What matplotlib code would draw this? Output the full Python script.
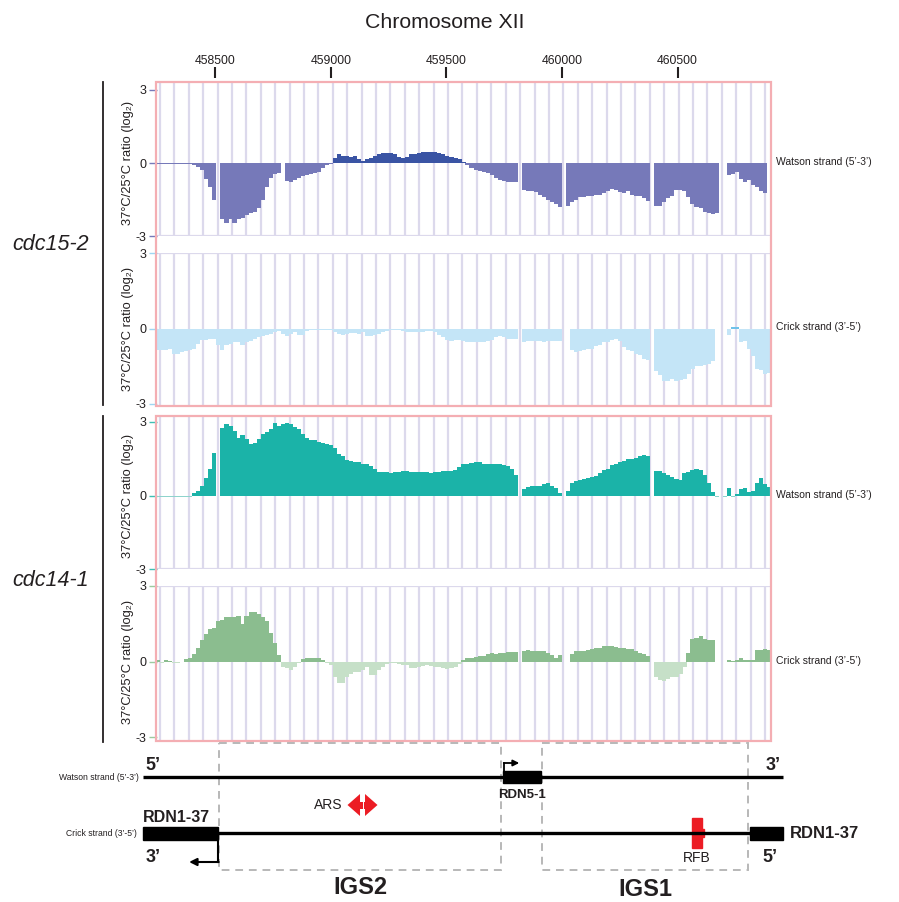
import numpy as np
import matplotlib.pyplot as plt
from matplotlib.patches import Rectangle, Polygon

plt.rcParams['font.family'] = ['Liberation Sans', 'DejaVu Sans']
narrow = ['Liberation Sans Narrow', 'Liberation Sans', 'DejaVu Sans']

nan = np.nan
W, H = 899, 902

# genomic position (bp) of each probe bin on chr XII, ~17.4 bp apart
pos = 458253 + 17.38 * np.arange(153)
bin_w = 17.8

# log2 ratio 37C/25C for each bin
cdc15_watson = [
    -0.04, -0.04, -0.04, -0.04, -0.04, -0.04, -0.04, -0.04, -0.04, -0.08,
    -0.18, -0.3, -0.65, -1.0, -1.5, nan, -2.3, -2.45, -2.3, -2.45,
    -2.3, -2.25, -2.15, -2.05, -2.0, -1.85, -1.5, -1.0, -0.6, -0.45,
    -0.4, nan, -0.75, -0.8, -0.7, -0.6, -0.55, -0.5, -0.45, -0.4,
    -0.35, -0.2, -0.1, -0.03, 0.2, 0.35, 0.3, 0.3, 0.25, 0.3,
    0.15, 0.1, 0.15, 0.2, 0.3, 0.35, 0.4, 0.4, 0.4, 0.35,
    0.25, 0.2, 0.25, 0.35, 0.35, 0.4, 0.45, 0.45, 0.45, 0.45,
    0.4, 0.35, 0.3, 0.25, 0.2, 0.15, 0.03, -0.1, -0.2, -0.28,
    -0.32, -0.37, -0.42, -0.5, -0.6, -0.68, -0.72, -0.78, -0.8, -0.8,
    nan, -1.1, -1.15, -1.15, -1.2, -1.3, -1.4, -1.5, -1.6, -1.7,
    -1.8, nan, -1.75, -1.6, -1.5, -1.4, -1.4, -1.35, -1.35, -1.3,
    -1.3, -1.25, -1.15, -1.05, -1.1, -1.2, -1.25, -1.15, -1.3, -1.35,
    -1.35, -1.45, -1.55, nan, -1.75, -1.75, -1.6, -1.45, -1.35, -1.1,
    -1.1, -1.15, -1.4, -1.7, -1.8, -1.85, -2.0, -2.05, -2.1, -2.05,
    nan, nan, -0.5, -0.45, -0.35, -0.65, -0.8, -0.7, -0.9, -1.0,
    -1.15, -1.25, nan]

cdc15_crick = [
    -0.85, -0.85, -0.85, -0.8, -1.0, -1.0, -0.95, -0.9, -0.85, -0.8,
    -0.6, -0.45, -0.45, -0.4, -0.4, -0.65, -0.85, -0.65, -0.6, -0.55,
    -0.55, -0.65, -0.55, -0.5, -0.4, -0.35, -0.3, -0.25, -0.2, -0.15,
    -0.1, -0.2, -0.3, -0.2, -0.15, -0.25, -0.25, -0.1, -0.05, -0.05,
    -0.05, -0.05, -0.05, -0.05, -0.12, -0.2, -0.25, -0.2, -0.18, -0.18,
    -0.2, -0.15, -0.3, -0.3, -0.25, -0.2, -0.12, -0.08, -0.05, -0.05,
    -0.05, -0.08, -0.12, -0.15, -0.15, -0.12, -0.12, -0.1, -0.1, -0.15,
    -0.25, -0.35, -0.45, -0.5, -0.45, -0.45, -0.5, -0.55, -0.55, -0.55,
    -0.55, -0.55, -0.5, -0.45, -0.35, -0.3, -0.35, -0.4, -0.4, -0.4,
    nan, -0.55, -0.5, -0.5, -0.5, -0.5, -0.52, -0.5, -0.5, -0.5,
    -0.5, nan, nan, -0.85, -0.95, -0.9, -0.85, -0.8, -0.8, -0.7,
    -0.65, -0.55, -0.55, -0.45, -0.4, -0.5, -0.75, -0.85, -0.9, -1.0,
    -1.05, -1.2, -1.25, nan, -1.7, -1.85, -2.1, -2.1, -2.0, -2.1,
    -2.05, -2.0, -1.8, -1.6, -1.5, -1.5, -1.45, -1.4, -1.3, nan,
    nan, nan, -0.25, 0.06, 0.06, -0.55, -0.5, -0.8, -1.1, -1.6,
    -1.65, -1.8, -1.75]

cdc14_watson = [
    -0.06, -0.06, -0.06, -0.06, -0.06, -0.06, -0.06, -0.06, -0.06, 0.1,
    0.2, 0.4, 0.7, 1.1, 1.75, nan, 2.75, 2.9, 2.85, 2.65,
    2.35, 2.45, 2.3, 2.1, 2.15, 2.3, 2.5, 2.6, 2.7, 2.95,
    2.85, 2.9, 2.95, 2.9, 2.8, 2.7, 2.5, 2.35, 2.25, 2.25,
    2.2, 2.15, 2.1, 2.05, 1.95, 1.7, 1.6, 1.45, 1.4, 1.35,
    1.35, 1.3, 1.3, 1.2, 1.1, 0.95, 0.95, 0.95, 0.9, 0.95,
    0.95, 1.0, 0.98, 0.95, 0.95, 0.95, 0.95, 0.95, 0.92, 0.95,
    0.95, 1.0, 1.02, 1.02, 1.05, 1.15, 1.3, 1.3, 1.32, 1.35,
    1.35, 1.3, 1.3, 1.3, 1.3, 1.28, 1.25, 1.2, 1.1, 0.85,
    nan, 0.25, 0.35, 0.4, 0.4, 0.4, 0.45, 0.5, 0.4, 0.3,
    0.1, nan, 0.2, 0.5, 0.6, 0.62, 0.68, 0.72, 0.75, 0.8,
    0.9, 1.05, 1.1, 1.25, 1.3, 1.35, 1.4, 1.5, 1.5, 1.55,
    1.6, 1.65, 1.6, nan, 1.0, 1.0, 0.9, 0.85, 0.75, 0.68,
    0.65, 0.9, 0.95, 1.05, 1.1, 1.05, 0.85, 0.5, 0.15, -0.05,
    nan, -0.05, 0.3, -0.05, 0.05, 0.25, 0.3, 0.15, 0.2, 0.5,
    0.7, 0.45, 0.35]

cdc14_crick = [
    0.05, -0.05, 0.05, 0.02, -0.05, -0.05, -0.02, 0.1, 0.12, 0.3,
    0.55, 0.85, 1.1, 1.3, 1.35, 1.6, 1.65, 1.75, 1.75, 1.75,
    1.8, 1.5, 1.8, 1.95, 1.95, 1.9, 1.75, 1.6, 1.15, 0.75,
    0.25, -0.2, -0.25, -0.35, -0.2, -0.05, 0.08, 0.12, 0.12, 0.15,
    0.12, 0.05, -0.05, -0.15, -0.6, -0.85, -0.85, -0.6, -0.5, -0.4,
    -0.4, -0.35, -0.2, -0.55, -0.55, -0.35, -0.2, -0.1, -0.05, -0.05,
    -0.1, -0.12, -0.15, -0.25, -0.25, -0.2, -0.18, -0.15, -0.18, -0.22,
    -0.22, -0.25, -0.28, -0.25, -0.2, -0.1, 0.05, 0.12, 0.15, 0.18,
    0.2, 0.22, 0.3, 0.32, 0.3, 0.32, 0.35, 0.38, 0.38, 0.38,
    nan, 0.4, 0.45, 0.42, 0.42, 0.4, 0.42, 0.35, 0.25, 0.15,
    0.25, nan, nan, 0.3, 0.4, 0.42, 0.42, 0.45, 0.5, 0.52,
    0.55, 0.6, 0.6, 0.6, 0.58, 0.55, 0.52, 0.5, 0.48, 0.4,
    0.35, 0.3, 0.2, nan, -0.6, -0.75, -0.78, -0.7, -0.6, -0.6,
    -0.5, -0.2, 0.35, 0.9, 0.95, 1.0, 0.9, 0.85, 0.85, nan,
    nan, nan, 0.05, 0.02, 0.05, 0.12, 0.05, 0.05, 0.05, 0.45,
    0.45, 0.5, 0.45]

strand_names = ['Watson strand (5\u2019-3\u2019)', 'Crick strand (3\u2019-5\u2019)',
                'Watson strand (5\u2019-3\u2019)', 'Crick strand (3\u2019-5\u2019)']
pos_colors = ['#3a54a4', '#6fc2ea', '#1bb3a8', '#8bbd8f']
neg_colors = ['#7679b9', '#c4e5f7', '#8ed3cc', '#c6e0c8']
tick_colors = ['#7679b9', '#9fd6f2', '#3fbfb3', '#9ccb9f']

xticks = [458500, 459000, 459500, 460000, 460500]
xlim = (458248, 460904)
grid_x = np.linspace(458261, 460878, 43)

# genome features for the map below the tracks (bp)
igs2 = (458516, 459736)
igs1 = (459913, 460804)
rdn5 = (459745, 459909)
rdn37_left = (458188, 458512)
rdn37_right = (460813, 460956)
ars_at = 459137
rfb_at = 460584

lavender = '#dcd9ec'
pink = '#f4aeb3'
txt = '#231f20'

fig = plt.figure(figsize=(W / 100, H / 100), dpi=100)


def box(left, top, right, bottom):
    return [left / W, 1 - bottom / H, (right - left) / W, (bottom - top) / H]


# (y of +3, y of -3, axes top, axes bottom) in pixels
track_px = [(90, 236, 83, 236), (253, 404, 253, 406),
            (422, 569, 416, 569), (586, 737, 586, 740)]
tracks = [cdc15_watson, cdc15_crick, cdc14_watson, cdc14_crick]

for i, vals in enumerate(tracks):
    y3, ym3, top, bot = track_px[i]
    unit = (ym3 - y3) / 6
    ytop = 3 + (y3 - top) / unit
    ybot = -3 - (bot - ym3) / unit
    ax = fig.add_axes(box(157, top, 771, bot))
    ax.set_xlim(*xlim)
    ax.set_ylim(ybot, ytop)
    v = np.array(vals, dtype=float)
    cols = np.where(v >= 0, pos_colors[i], neg_colors[i])
    ax.vlines(grid_x, ybot, ytop, color=lavender, lw=1.6, zorder=0)
    ax.axhline(-3 if i % 2 == 0 else 3, color=lavender, lw=1.6, zorder=0)
    ax.bar(pos, v, width=bin_w, color=cols, linewidth=0, zorder=2)
    for s in ax.spines.values():
        s.set_visible(False)
    ax.set_xticks([])
    ax.set_yticks([-3, 0, 3])
    ax.set_yticklabels(['-3', '0', '3'])
    ax.tick_params(axis='y', length=6, width=1, color=tick_colors[i],
                   labelsize=9, pad=1.5, labelcolor=txt)
    fig.text(128 / W, 1 - (y3 + ym3) / 2 / H, '37\u00b0C/25\u00b0C ratio (log\u2082)',
             rotation=90, ha='center', va='center', fontsize=9.3, color=txt)
    zero_y = y3 + (ym3 - y3) / 2
    fig.text(776 / W, 1 - (zero_y - 1) / H, strand_names[i], ha='left',
             va='center', fontsize=7.5, color=txt)

# overlay for frames and brackets
ov = fig.add_axes([0, 0, 1, 1])
ov.set_xlim(0, W)
ov.set_ylim(H, 0)
ov.axis('off')
ov.patch.set_visible(False)
for top, bot in [(82, 406), (416, 741)]:
    ov.add_patch(Rectangle((156, top), 615, bot - top, fill=False,
                           edgecolor=pink, lw=1.6))
ov.plot([103, 103], [82, 405], color=txt, lw=1.3)
ov.plot([103, 103], [416, 742], color=txt, lw=1.3)
ov.text(12, 245, 'cdc15-2', style='italic', fontsize=15.5, ha='left',
        va='center', color=txt)
ov.text(12, 580, 'cdc14-1', style='italic', fontsize=15.5, ha='left',
        va='center', color=txt)
ov.text(445, 22, 'Chromosome XII', fontsize=15.3, ha='center', va='center',
        color=txt)

# coordinate ruler above the tracks
axt = fig.add_axes(box(157, 77.9, 771, 78))
axt.set_xlim(*xlim)
axt.set_yticks([])
for s in axt.spines.values():
    s.set_visible(False)
axt.xaxis.tick_top()
axt.set_xticks(xticks)
axt.set_xticklabels([str(t) for t in xticks])
axt.tick_params(axis='x', length=8, width=1.5, pad=0, labelsize=8.8,
                colors=txt)

# gene map
ad = fig.add_axes(box(157, 742, 771, 902))
ad.set_xlim(*xlim)
ad.set_ylim(902, 742)
ad.axis('off')
ad.patch.set_visible(False)

for a, b in [igs2, igs1]:
    ad.add_patch(Rectangle((a, 743), b - a, 127, fill=False, edgecolor='#b8b8b8',
                           lw=1.4, ls=(0, (4, 3)), clip_on=False))

ad.plot([rdn37_left[0], rdn37_right[1]], [777, 777], color='black', lw=2.4,
        clip_on=False, solid_capstyle='butt')
ad.plot([rdn37_left[0], rdn37_right[1]], [833, 833], color='black', lw=2.4,
        clip_on=False, solid_capstyle='butt')
ad.add_patch(Rectangle((rdn5[0], 771), rdn5[1] - rdn5[0], 12, color='black'))
ad.add_patch(Rectangle((rdn37_left[0], 827), rdn37_left[1] - rdn37_left[0], 13,
                       color='black', clip_on=False))
ad.add_patch(Rectangle((rdn37_right[0], 827), rdn37_right[1] - rdn37_right[0],
                       13, color='black', clip_on=False))

# transcription start arrows
ad.plot([rdn5[0] + 4, rdn5[0] + 4], [771, 763], color='black', lw=1.3)
ad.annotate('', xy=(rdn5[0] + 70, 763), xytext=(rdn5[0] + 3, 763),
            arrowprops=dict(arrowstyle='-|>', color='black', lw=1.3,
                            mutation_scale=9, shrinkA=0, shrinkB=0))
ad.plot([rdn37_left[1], rdn37_left[1]], [840, 862], color='black', lw=1.5,
        clip_on=False)
ad.annotate('', xy=(rdn37_left[1] - 125, 862), xytext=(rdn37_left[1] + 3, 862),
            arrowprops=dict(arrowstyle='-|>', color='black', lw=1.5,
                            mutation_scale=11, shrinkA=0, shrinkB=0),
            annotation_clip=False)

# ARS (double arrow) and RFB
red = '#ec1c24'
bp = 4.325  # bp per pixel
for sgn in (-1, 1):
    ad.add_patch(Polygon([(ars_at + sgn * 15 * bp, 805),
                          (ars_at + sgn * 2.5 * bp, 794),
                          (ars_at + sgn * 2.5 * bp, 816)], closed=True,
                         color=red, lw=0))
ad.add_patch(Rectangle((ars_at - 3 * bp, 801.5), 6 * bp, 7, color=red, lw=0))
ad.plot([ars_at, ars_at], [800, 810], color='white', lw=0.7)
ad.text(ars_at - 20 * bp, 805, 'ARS', ha='right', va='center', fontsize=10,
        color=txt, family=narrow)
ad.add_patch(Rectangle((rfb_at - 20, 818), 40, 30, color=red))
ad.add_patch(Rectangle((rfb_at + 18, 829), 14, 8, color=red))
ad.text(rfb_at, 858, 'RFB', ha='center', va='center', fontsize=10,
        color=txt, family=narrow)

# labels of the map
bold = dict(fontweight='bold', color=txt, family=narrow)
ad.text(sum(rdn5) / 2, 795, 'RDN5-1', ha='center', va='center', fontsize=9.5,
        **bold)
ad.text(rdn37_left[0], 818, 'RDN1-37', ha='left', va='center', fontsize=11.5,
        clip_on=False, **bold)
ad.text(rdn37_right[1] + 30, 833, 'RDN1-37', ha='left', va='center',
        fontsize=12, clip_on=False, **bold)
ad.text(rdn37_left[0] + 10, 766, '5\u2019', ha='left', va='center',
        fontsize=13, clip_on=False, **bold)
ad.text(rdn37_right[1] - 10, 766, '3\u2019', ha='right', va='center',
        fontsize=13, clip_on=False, **bold)
ad.text(rdn37_left[0] + 10, 858, '3\u2019', ha='left', va='center',
        fontsize=13, clip_on=False, **bold)
ad.text(rdn37_right[1] - 25, 858, '5\u2019', ha='right', va='center',
        fontsize=13, clip_on=False, **bold)
ad.text(rdn37_left[0] - 20, 777, 'Watson strand (5\u2019-3\u2019)', ha='right',
        va='center', fontsize=6.2, color=txt, family=narrow, clip_on=False)
ad.text(rdn37_left[0] - 25, 833, 'Crick strand (3\u2019-5\u2019)', ha='right',
        va='center', fontsize=6.2, color=txt, family=narrow, clip_on=False)
ad.text(sum(igs2) / 2, 888, 'IGS2', ha='center', va='center', fontsize=17,
        **bold)
ad.text(sum(igs1) / 2, 890, 'IGS1', ha='center', va='center', fontsize=17,
        **bold)

fig.savefig('out.png', dpi=100)
